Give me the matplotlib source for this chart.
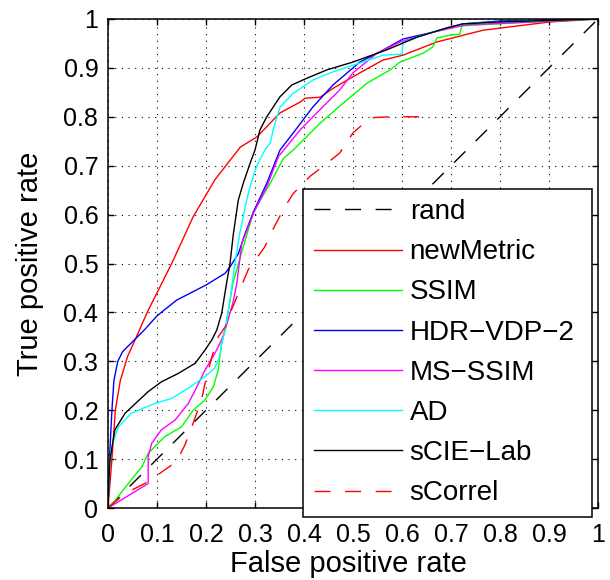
import numpy as np
import matplotlib
matplotlib.use("Agg")
import matplotlib.pyplot as plt

# ROC curves (false positive rate, true positive rate)
rand_x = [0.0, 1.0]
rand_y = [0.0, 1.0]

newmetric_x = [0, 0.004, 0.008, 0.015, 0.025, 0.04, 0.058, 0.08, 0.103, 0.13, 0.174,
               0.218, 0.27, 0.304, 0.351, 0.392, 0.402, 0.433, 0.459, 0.5, 0.561,
               0.602, 0.671, 0.765, 0.902, 1.0]
newmetric_y = [0, 0.05, 0.1, 0.2, 0.26, 0.31, 0.35, 0.4, 0.446, 0.5, 0.596,
               0.671, 0.738, 0.759, 0.808, 0.83, 0.838, 0.84, 0.858, 0.882, 0.916,
               0.926, 0.953, 0.977, 0.994, 1.0]

ssim_x = [0, 0.01, 0.058, 0.069, 0.082, 0.116, 0.15, 0.174, 0.198, 0.215, 0.225,
          0.228, 0.232, 0.239, 0.255, 0.27, 0.297, 0.331, 0.358, 0.378, 0.392,
          0.433, 0.48, 0.529, 0.576, 0.596, 0.643, 0.663, 0.671, 0.698, 0.718,
          0.722, 0.867, 1.0]
ssim_y = [0, 0.01, 0.071, 0.084, 0.112, 0.146, 0.166, 0.2, 0.221, 0.248, 0.282,
          0.309, 0.337, 0.364, 0.46, 0.513, 0.606, 0.664, 0.715, 0.732, 0.746,
          0.787, 0.828, 0.869, 0.896, 0.912, 0.93, 0.943, 0.961, 0.967, 0.969,
          0.986, 0.994, 1.0]

hdr_x = [0, 0.003, 0.008, 0.012, 0.02, 0.03, 0.045, 0.06, 0.075, 0.1, 0.14, 0.2,
         0.239, 0.249, 0.266, 0.28, 0.297, 0.324, 0.351, 0.378, 0.418, 0.459,
         0.514, 0.555, 0.602, 0.663, 0.724, 0.8, 1.0]
hdr_y = [0, 0.1, 0.2, 0.26, 0.3, 0.32, 0.335, 0.35, 0.365, 0.393, 0.425, 0.456,
         0.48, 0.493, 0.52, 0.562, 0.606, 0.664, 0.732, 0.767, 0.82, 0.865,
         0.912, 0.933, 0.959, 0.973, 0.99, 0.996, 1.0]

msssim_x = [0, 0.082, 0.082, 0.089, 0.109, 0.137, 0.164, 0.178, 0.198, 0.218, 0.232,
            0.239, 0.255, 0.263, 0.273, 0.297, 0.324, 0.348, 0.392, 0.433, 0.473,
            0.5, 0.549, 0.596, 0.663, 0.731, 0.867, 1.0]
msssim_y = [0, 0.05, 0.105, 0.132, 0.16, 0.18, 0.214, 0.241, 0.282, 0.316, 0.344,
            0.364, 0.42, 0.46, 0.541, 0.603, 0.657, 0.719, 0.773, 0.815, 0.855,
            0.89, 0.93, 0.953, 0.973, 0.988, 0.994, 1.0]

ad_x = [0, 0.002, 0.004, 0.0075, 0.021, 0.048, 0.096, 0.13, 0.164, 0.198, 0.218,
        0.228, 0.232, 0.239, 0.249, 0.259, 0.269, 0.283, 0.29, 0.303, 0.32, 0.331,
        0.337, 0.351, 0.378, 0.418, 0.459, 0.514, 0.561, 0.6, 0.602, 0.631, 0.692,
        0.724, 0.8, 1.0]
ad_y = [0, 0.06, 0.1, 0.125, 0.166, 0.194, 0.214, 0.224, 0.245, 0.269, 0.286,
        0.309, 0.337, 0.364, 0.425, 0.5, 0.562, 0.63, 0.657, 0.698, 0.732, 0.746,
        0.773, 0.82, 0.848, 0.875, 0.892, 0.91, 0.926, 0.928, 0.952, 0.963, 0.982,
        0.99, 0.994, 1.0]

scie_x = [0, 0.002, 0.004, 0.014, 0.035, 0.082, 0.109, 0.143, 0.178, 0.198, 0.212,
          0.222, 0.232, 0.242, 0.249, 0.256, 0.266, 0.276, 0.29, 0.3, 0.31, 0.324,
          0.351, 0.375, 0.406, 0.447, 0.5, 0.569, 0.631, 0.692, 0.724, 0.8, 1.0]
scie_y = [0, 0.06, 0.098, 0.16, 0.194, 0.238, 0.258, 0.275, 0.296, 0.323, 0.344,
          0.364, 0.398, 0.46, 0.5, 0.562, 0.63, 0.664, 0.705, 0.732, 0.773, 0.8,
          0.841, 0.865, 0.879, 0.896, 0.912, 0.937, 0.963, 0.982, 0.99, 0.994, 1.0]

scorrel_x = [0, 0.035, 0.075, 0.096, 0.14, 0.157, 0.171, 0.191, 0.198, 0.212, 0.225,
             0.239, 0.252, 0.273, 0.286, 0.32, 0.334, 0.361, 0.378, 0.412, 0.447,
             0.473, 0.5, 0.535, 0.576, 0.64]
scorrel_y = [0, 0.03, 0.05, 0.064, 0.095, 0.129, 0.166, 0.221, 0.255, 0.309, 0.35,
             0.37, 0.405, 0.456, 0.487, 0.534, 0.565, 0.616, 0.643, 0.678, 0.705,
             0.726, 0.767, 0.798, 0.8, 0.8]

ticks = [0, 0.1, 0.2, 0.3, 0.4, 0.5, 0.6, 0.7, 0.8, 0.9, 1]
tick_labels = ["0", "0.1", "0.2", "0.3", "0.4", "0.5", "0.6", "0.7", "0.8", "0.9", "1"]

plt.rcParams["font.family"] = ["Liberation Sans", "DejaVu Sans"]

fig = plt.figure(figsize=(6.1, 5.8), dpi=100)
ax = fig.add_axes([108 / 610, 1 - 508 / 580, 490 / 610, 489 / 580])

dash = (0, (11.5, 10.5))
lw = 1.0
ax.plot(rand_x, rand_y, color="black", lw=lw, linestyle=dash, label="rand")
ax.plot(newmetric_x, newmetric_y, color="#ff0000", lw=lw, label="newMetric")
ax.plot(ssim_x, ssim_y, color="#00ff00", lw=lw, label="SSIM")
ax.plot(hdr_x, hdr_y, color="#0000ff", lw=lw, label="HDR\u2212VDP\u22122")
ax.plot(msssim_x, msssim_y, color="#ff00ff", lw=lw, label="MS\u2212SSIM")
ax.plot(ad_x, ad_y, color="#00ffff", lw=lw, label="AD")
ax.plot(scie_x, scie_y, color="black", lw=lw, label="sCIE\u2212Lab")
ax.plot(scorrel_x, scorrel_y, color="#ff0000", lw=lw, linestyle=dash, label="sCorrel")

ax.set_xlim(0, 1)
ax.set_ylim(0, 1)
ax.set_xticks(ticks)
ax.set_xticklabels(tick_labels)
ax.set_yticks(ticks)
ax.set_yticklabels(tick_labels)
ax.tick_params(direction="in", length=4, width=1, top=True, right=True,
               labelsize=18)
ax.tick_params(axis="x", pad=11)
ax.tick_params(axis="y", pad=7)
ax.grid(True, color="black", linestyle=(0, (1, 5)), linewidth=0.8)
for sp in ax.spines.values():
    sp.set_linewidth(1.1)

ax.set_xlabel("False positive rate", fontsize=21)
ax.set_ylabel("True positive rate", fontsize=21)
ax.xaxis.set_label_coords(0.49, -0.086)
ax.yaxis.set_label_coords(-0.13, 0.5)

leg = ax.legend(loc="lower left", bbox_to_anchor=(0.398, -0.018, 0.59, 0.67),
                mode="expand", borderaxespad=0, fontsize=20, handlelength=3.17,
                handletextpad=0.29, labelspacing=0.51, borderpad=0.38,
                fancybox=False, framealpha=1)
leg.get_frame().set_edgecolor("black")
leg.get_frame().set_linewidth(1.1)
leg.set_clip_on(False)

fig.savefig("out.png", dpi=100)
